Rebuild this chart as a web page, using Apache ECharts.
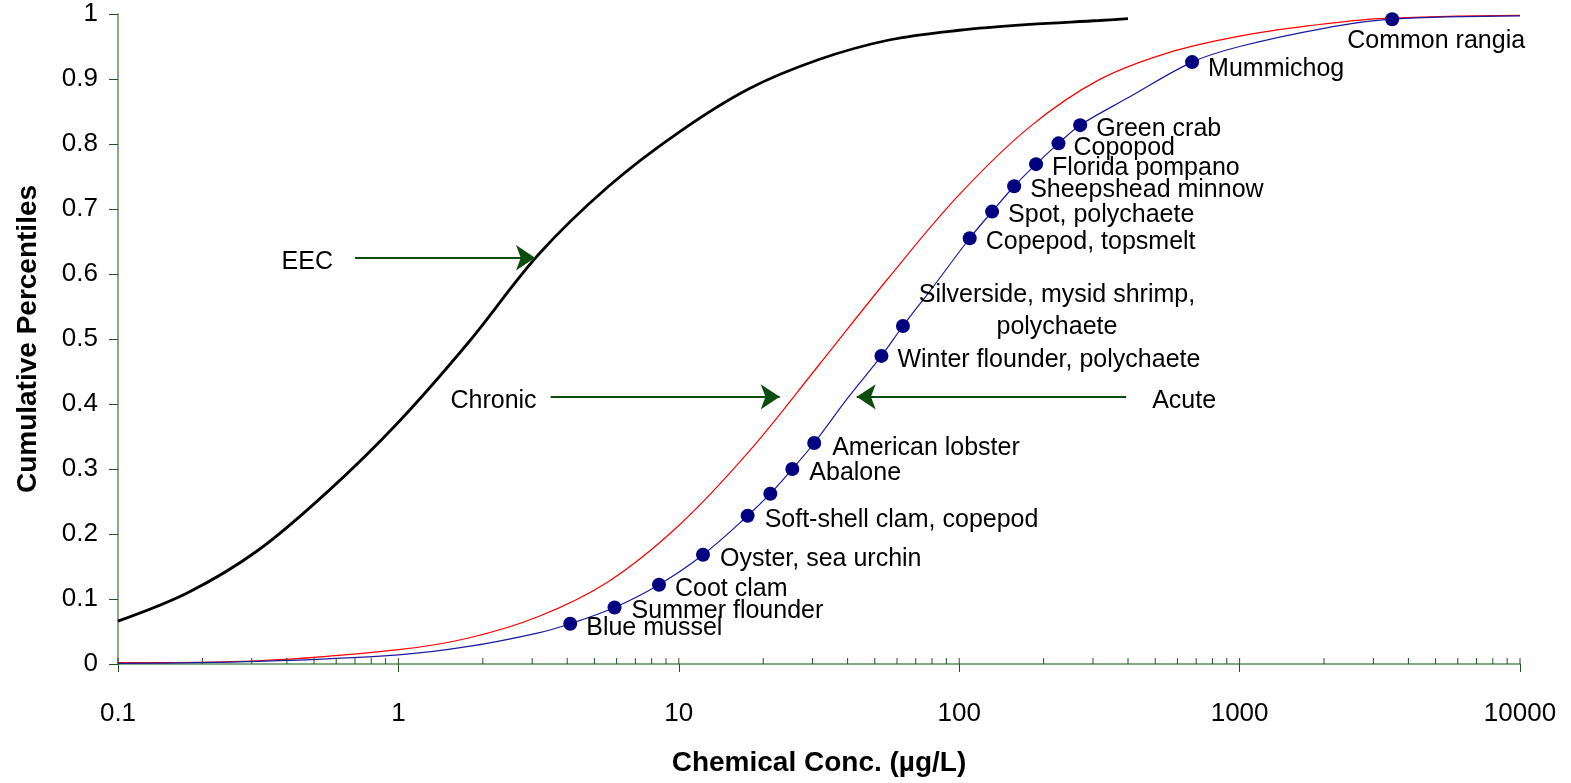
<!DOCTYPE html>
<html>
<head>
<meta charset="utf-8">
<script src="https://cdn.jsdelivr.net/npm/echarts@6/dist/echarts.min.js"></script>
<style>
html, body { margin: 0; padding: 0; background: #fff; }
#chart { width: 1571px; height: 783px; }
</style>
</head>
<body>
<div id="chart"></div>
<script>
// acute toxicity points (species sensitivity)
var acuteConc = [4.10, 5.90, 8.50, 12.2, 17.6, 21.2, 25.4, 30.4, 52.8, 63.0, 109, 131, 157, 188, 226, 270, 677, 3500];
var acutePct = [0.062, 0.087, 0.122, 0.168, 0.228, 0.262, 0.300, 0.340, 0.474, 0.520, 0.655, 0.696, 0.735, 0.769, 0.801, 0.829, 0.926, 0.992];
var speciesNames = ['Blue mussel', 'Summer flounder', 'Coot clam', 'Oyster, sea urchin', 'Soft-shell clam, copepod', '',
    'Abalone', 'American lobster', 'Winter flounder, polychaete', 'Silverside, mysid shrimp,\npolychaete',
    'Copepod, topsmelt', 'Spot, polychaete', 'Sheepshead minnow', 'Florida pompano', 'Copopod', 'Green crab',
    'Mummichog', 'Common rangia'];

// fitted acute curve
var acuteCurveConc = [0.1, 0.316, 1, 1.78, 3.16, 4.10, 5.90, 8.50, 12.2, 17.6, 21.2, 25.4, 30.4, 40, 52.8, 63.0, 80, 109, 131, 157, 188, 226, 270, 400, 677, 1000, 2000, 3500, 10000];
var acuteCurvePct = [0.001, 0.004, 0.014, 0.027, 0.048, 0.062, 0.087, 0.122, 0.168, 0.228, 0.262, 0.300, 0.340, 0.409, 0.474, 0.520, 0.578, 0.655, 0.696, 0.735, 0.769, 0.801, 0.829, 0.871, 0.926, 0.950, 0.978, 0.992, 0.997];

// chronic curve
var chronicConc = [0.1, 0.316, 1, 1.78, 3.16, 5.62, 10, 17.8, 31.6, 56.2, 100, 178, 316, 562, 1000, 1778, 3162, 10000];
var chronicPct = [0.002, 0.005, 0.022, 0.040, 0.073, 0.127, 0.213, 0.327, 0.460, 0.595, 0.722, 0.826, 0.899, 0.941, 0.966, 0.982, 0.993, 0.998];

// EEC curve
var eecConc = [0.1, 0.178, 0.316, 0.562, 1, 1.78, 3.16, 5.62, 10, 17.8, 31.6, 56.2, 100, 178, 316, 400];
var eecPct = [0.066, 0.110, 0.175, 0.266, 0.372, 0.495, 0.630, 0.735, 0.818, 0.885, 0.930, 0.960, 0.975, 0.984, 0.990, 0.993];

// x axis ticks
var majorTicks = [0.1, 1, 10, 100, 1000, 10000];
var minorTicks = [0.2, 0.3, 0.4, 0.5, 0.6, 0.7, 0.8, 0.9,
    2, 3, 4, 5, 6, 7, 8, 9,
    20, 30, 40, 50, 60, 70, 80, 90,
    200, 300, 400, 500, 600, 700, 800, 900,
    2000, 3000, 4000, 5000, 6000, 7000, 8000, 9000];

// label placement relative to each dot: [dx, dy, align]
var labelPlace = [[16, 4, 'left'], [17, 4, 'left'], [16, 4, 'left'], [17, 4, 'left'], [17, 4, 'left'], [0, 0, 'left'],
    [17, 4, 'left'], [18, 5, 'left'], [16, 4, 'left'], [154, -15, 'center'],
    [16, 4, 'left'], [16, 4, 'left'], [16, 4, 'left'], [16, 4, 'left'], [15, 5, 'left'], [16, 4, 'left'],
    [16, 7, 'left'], [44, 22, 'center']];

function pairs(xs, ys) {
    return xs.map(function (x, i) { return [x, ys[i]]; });
}

var axisGreen = '#5b8c5b';
var tickGreen = '#1e561e';
var arrowGreen = '#0d4d0d';
var font = "'Liberation Sans', Arial, sans-serif";

var pointData = acuteConc.map(function (x, i) {
    var p = labelPlace[i];
    return {
        value: [x, acutePct[i]],
        label: {
            show: speciesNames[i] !== '',
            formatter: speciesNames[i],
            position: 'inside',
            offset: [p[0], p[1]],
            align: p[2],
            verticalAlign: 'middle',
            color: '#000',
            textBorderWidth: 0,
            textBorderColor: 'transparent'
        }
    };
});

var tickData = majorTicks.concat(minorTicks).map(function (v) { return [v, 0]; });

function arrowMark(from, to, text, gap) {
    return {
        silent: true,
        symbol: ['none', 'arrow'],
        symbolSize: 19,
        animation: false,
        lineStyle: { color: arrowGreen, width: 2, type: 'solid' },
        emphasis: { disabled: true },
        label: {
            show: true, position: 'start', formatter: text, distance: gap,
            offset: [0, 4],
            color: '#000', fontSize: 25, fontFamily: font
        },
        data: [[{ coord: from }, { coord: to }]]
    };
}

var chart = echarts.init(document.getElementById('chart'));
chart.setOption({
    animation: false,
    backgroundColor: '#fff',
    textStyle: { fontFamily: font },
    grid: { left: 118, right: 51, top: 14, bottom: 119 },
    xAxis: {
        type: 'log',
        logBase: 10,
        min: 0.1,
        max: 10000,
        name: 'Chemical Conc. (µg/L)',
        nameLocation: 'middle',
        nameGap: 85,
        nameTextStyle: { fontSize: 28, fontWeight: 'bold', color: '#000', fontFamily: font },
        axisLine: { lineStyle: { color: axisGreen, width: 1.5 } },
        axisTick: { length: 8, lineStyle: { color: tickGreen, width: 1 } },
        axisLabel: {
            color: '#000', fontSize: 26, margin: 37,
            formatter: function (v) { return String(+(+v).toPrecision(6)); }
        },
        splitLine: { show: false }
    },
    yAxis: {
        type: 'value',
        min: 0,
        max: 1,
        interval: 0.1,
        name: 'Cumulative Percentiles',
        nameLocation: 'middle',
        nameGap: 76,
        nameTextStyle: { fontSize: 28, fontWeight: 'bold', color: '#000', fontFamily: font },
        axisLine: { show: true, lineStyle: { color: axisGreen, width: 1.5 } },
        axisTick: { show: true, length: 9, lineStyle: { color: tickGreen, width: 1 } },
        axisLabel: { color: '#000', fontSize: 26, margin: 20 },
        splitLine: { show: false }
    },
    series: [
        {
            name: 'EEC',
            type: 'line',
            data: pairs(eecConc, eecPct),
            showSymbol: false,
            smooth: 0.35,
            lineStyle: { color: '#000', width: 2.8 },
            z: 3,
            markLine: arrowMark([0.70, 0.625], [3.07, 0.625], 'EEC', 22)
        },
        {
            name: 'Chronic',
            type: 'line',
            data: pairs(chronicConc, chronicPct),
            showSymbol: false,
            smooth: 0.35,
            lineStyle: { color: '#ff0000', width: 1.2 },
            z: 3,
            markLine: arrowMark([3.49, 0.411], [22.9, 0.411], 'Chronic', 14)
        },
        {
            name: 'Acute',
            type: 'line',
            data: pairs(acuteCurveConc, acuteCurvePct),
            showSymbol: false,
            smooth: 0.35,
            lineStyle: { color: '#1a1aa0', width: 1.2 },
            z: 3,
            markLine: arrowMark([394, 0.411], [43.1, 0.411], 'Acute', 26)
        },
        {
            name: 'Species',
            type: 'scatter',
            data: pointData,
            symbol: 'circle',
            symbolSize: 14,
            itemStyle: { color: '#000080', opacity: 1 },
            label: { color: '#000', fontSize: 25, lineHeight: 32, fontFamily: font },
            z: 5
        },
        {
            name: 'minor ticks',
            type: 'custom',
            silent: true,
            data: tickData,
            renderItem: function (params, api) {
                var p = api.coord([api.value(0), 0]);
                return {
                    type: 'line',
                    shape: { x1: p[0], y1: p[1], x2: p[0], y2: p[1] - 6 },
                    style: { stroke: tickGreen, lineWidth: 1 }
                };
            },
            z: 4
        }
    ]
});
</script>
</body>
</html>
